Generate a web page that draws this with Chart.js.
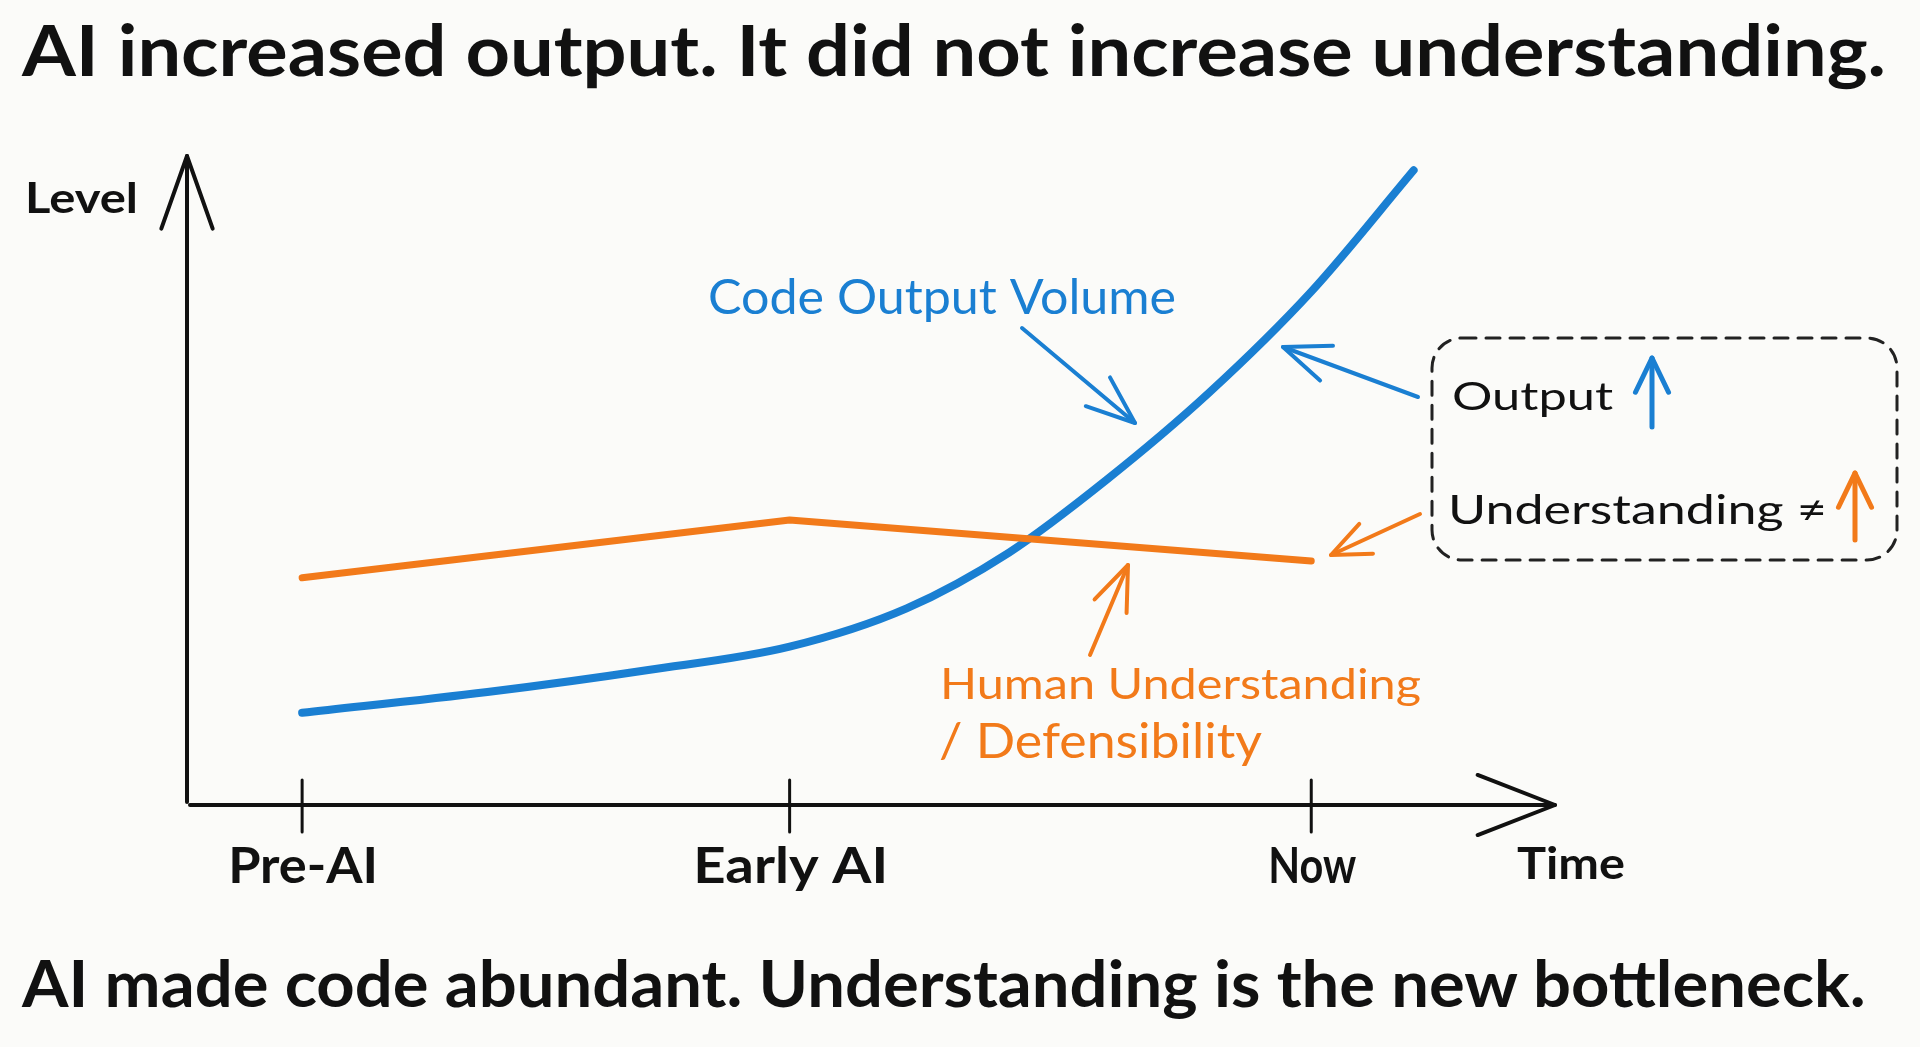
<!DOCTYPE html>
<html lang="en">
<head>
    <meta charset="UTF-8">
    <meta name="viewport" content="width=device-width, initial-scale=1.0">
    <title>AI output vs understanding</title>
    <script src="https://cdn.jsdelivr.net/npm/chart.js"></script>
    <style>
        html, body {
            margin: 0;
            padding: 0;
            background: #fbfbf9;
            overflow: hidden;
        }
        .wrap {
            position: relative;
            width: 1920px;
            height: 1047px;
        }
        .headline {
            position: absolute;
            left: 22px;
            margin: 0;
            font-family: Lato, sans-serif;
            font-weight: 700;
            color: #111;
            white-space: nowrap;
            line-height: 1;
            transform-origin: left top;
            z-index: 2;
        }
        #chartBox {
            position: absolute;
            left: 0;
            top: 0;
            width: 1920px;
            height: 1047px;
        }
    </style>
</head>
<body>
<div class="wrap">
    <h1 id="title" class="headline">AI increased output. It did not increase understanding.</h1>
    <div id="chartBox"><canvas id="sketchChart"></canvas></div>
    <p id="caption" class="headline">AI made code abundant. Understanding is the new bottleneck.</p>
</div>

<script>
    // ---- data ----
    const timeLabels = ['Pre-AI', 'Early AI', 'Now'];
    const timeTicks = [0, 1, 2.07];

    const outputX = [0, 0.38, 0.71, 1, 1.24, 1.45, 1.65, 1.86, 2.07, 2.28];
    const outputY = [14.2, 17.4, 20.8, 24.4, 30.3, 38.9, 50.1, 63.5, 79.1, 97.8];

    const understandingX = [0, 1, 2.07];
    const understandingY = [35.0, 43.9, 37.6];

    const BLUE = '#1a7fd2';
    const ORANGE = '#f27a1a';
    const INK = '#111111';
    const FONT = 'Lato, sans-serif';
    const CAP_RATIO = 0.7165; // Lato cap height / em

    // text drawn to a given cap height and stretched to a given width
    function sketchText(ctx, t) {
        const size = t.cap / CAP_RATIO;
        ctx.font = (t.weight || 400) + ' ' + size + 'px ' + FONT;
        const natural = ctx.measureText(t.text).width;
        ctx.save();
        ctx.translate(t.x, t.base);
        ctx.scale(t.width / natural, 1);
        ctx.textAlign = t.align || 'left';
        ctx.textBaseline = 'alphabetic';
        ctx.fillStyle = t.color || INK;
        ctx.fillText(t.text, 0, 0);
        ctx.restore();
    }

    function arrow(ctx, x1, y1, x2, y2, head, spread, color, width) {
        ctx.strokeStyle = color;
        ctx.lineWidth = width;
        ctx.lineCap = 'round';
        ctx.lineJoin = 'round';
        ctx.beginPath();
        ctx.moveTo(x1, y1);
        ctx.lineTo(x2, y2);
        ctx.stroke();
        const a = Math.atan2(y2 - y1, x2 - x1);
        ctx.beginPath();
        ctx.moveTo(x2 - head * Math.cos(a - spread), y2 - head * Math.sin(a - spread));
        ctx.lineTo(x2, y2);
        ctx.lineTo(x2 - head * Math.cos(a + spread), y2 - head * Math.sin(a + spread));
        ctx.stroke();
    }

    // hand drawn axes, ticks and labels
    const sketchAxes = {
        id: 'sketchAxes',
        beforeDatasetsDraw(chart) {
            const ctx = chart.ctx;
            const xs = chart.scales.x;
            const ca = chart.chartArea;
            ctx.save();

            // y axis
            arrow(ctx, ca.left - 3, ca.bottom - 3, ca.left - 3, ca.top, 77, 0.34, INK, 4);
            // x axis
            arrow(ctx, ca.left, ca.bottom, ca.right, ca.bottom, 83, 0.37, INK, 4);

            // ticks + labels
            const widths = [150, 195, 88];
            timeTicks.forEach((v, i) => {
                const px = xs.getPixelForValue(v);
                ctx.strokeStyle = INK;
                ctx.lineWidth = 3;
                ctx.beginPath();
                ctx.moveTo(px, ca.bottom - 25);
                ctx.lineTo(px, ca.bottom + 27);
                ctx.stroke();
                sketchText(ctx, { text: timeLabels[i], x: px + 1, base: 883, width: widths[i], cap: 35, align: 'center', weight: 700 });
            });

            sketchText(ctx, { text: 'Time', x: 1517, base: 879, width: 108, cap: 31, weight: 700 });
            sketchText(ctx, { text: 'Level', x: 25, base: 213, width: 113, cap: 30, weight: 700 });
            ctx.restore();
        },
        afterDatasetsDraw(chart) {
            const ctx = chart.ctx;
            ctx.save();

            // series annotations
            sketchText(ctx, { text: 'Code Output Volume', x: 708, base: 314, width: 468, cap: 35, color: BLUE });
            arrow(ctx, 1022, 328, 1135, 423, 52, 0.37, BLUE, 4);

            sketchText(ctx, { text: 'Human Understanding', x: 940, base: 699, width: 481, cap: 30, color: ORANGE });
            sketchText(ctx, { text: '/ Defensibility', x: 939, base: 758, width: 323, cap: 34, color: ORANGE });
            arrow(ctx, 1090, 655, 1128, 565, 48, 0.37, ORANGE, 4);

            // dashed callout box
            ctx.strokeStyle = '#222';
            ctx.lineWidth = 3;
            ctx.setLineDash([14, 10]);
            ctx.beginPath();
            ctx.roundRect(1432, 338, 465, 222, 30);
            ctx.stroke();
            ctx.setLineDash([]);

            sketchText(ctx, { text: 'Output', x: 1452, base: 410, width: 161, cap: 28 });
            arrow(ctx, 1652, 427, 1652, 358, 38, 0.45, BLUE, 5);
            sketchText(ctx, { text: 'Understanding \u2260', x: 1448, base: 524, width: 379, cap: 29 });
            arrow(ctx, 1855, 540, 1855, 473, 38, 0.45, ORANGE, 5);

            arrow(ctx, 1418, 397, 1283, 347, 50, 0.38, BLUE, 4);
            arrow(ctx, 1420, 514, 1331, 555, 42, 0.40, ORANGE, 4);

            ctx.restore();
        }
    };

    // fit the two headlines (html text) to the sketch's size
    function fitHeadline(id, cap, width, base) {
        const el = document.getElementById(id);
        const size = cap / CAP_RATIO;
        const c = document.createElement('canvas').getContext('2d');
        c.font = '700 ' + size + 'px ' + FONT;
        const m = c.measureText(el.textContent);
        const asc = m.fontBoundingBoxAscent, desc = m.fontBoundingBoxDescent;
        el.style.fontSize = size + 'px';
        el.style.transform = 'scaleX(' + (width / m.width) + ')';
        el.style.top = (base - ((size - asc - desc) / 2 + asc)) + 'px';
    }
    fitHeadline('title', 51, 1864, 76);
    fitHeadline('caption', 46, 1845, 1008);

    const ctx = document.getElementById('sketchChart').getContext('2d');
    const sketchChart = new Chart(ctx, {
        type: 'line',
        data: {
            datasets: [
                {
                    label: 'Human Understanding / Defensibility',
                    data: understandingX.map((x, i) => ({ x: x, y: understandingY[i] })),
                    borderColor: ORANGE,
                    borderWidth: 7,
                    tension: 0,
                    pointRadius: 0,
                    borderCapStyle: 'round',
                    borderJoinStyle: 'round',
                    clip: false
                },
                {
                    label: 'Code Output Volume',
                    data: outputX.map((x, i) => ({ x: x, y: outputY[i] })),
                    borderColor: BLUE,
                    borderWidth: 8,
                    cubicInterpolationMode: 'monotone',
                    pointRadius: 0,
                    borderCapStyle: 'round',
                    clip: false
                }
            ]
        },
        options: {
            responsive: true,
            maintainAspectRatio: false,
            animation: false,
            layout: {
                padding: { left: 190, right: 365, top: 156, bottom: 242 }
            },
            scales: {
                x: { type: 'linear', min: -0.23, max: 2.57, display: false },
                y: { min: 0, max: 100, display: false }
            },
            plugins: {
                legend: { display: false },
                tooltip: { enabled: false }
            }
        },
        plugins: [sketchAxes]
    });
</script>
</body>
</html>
